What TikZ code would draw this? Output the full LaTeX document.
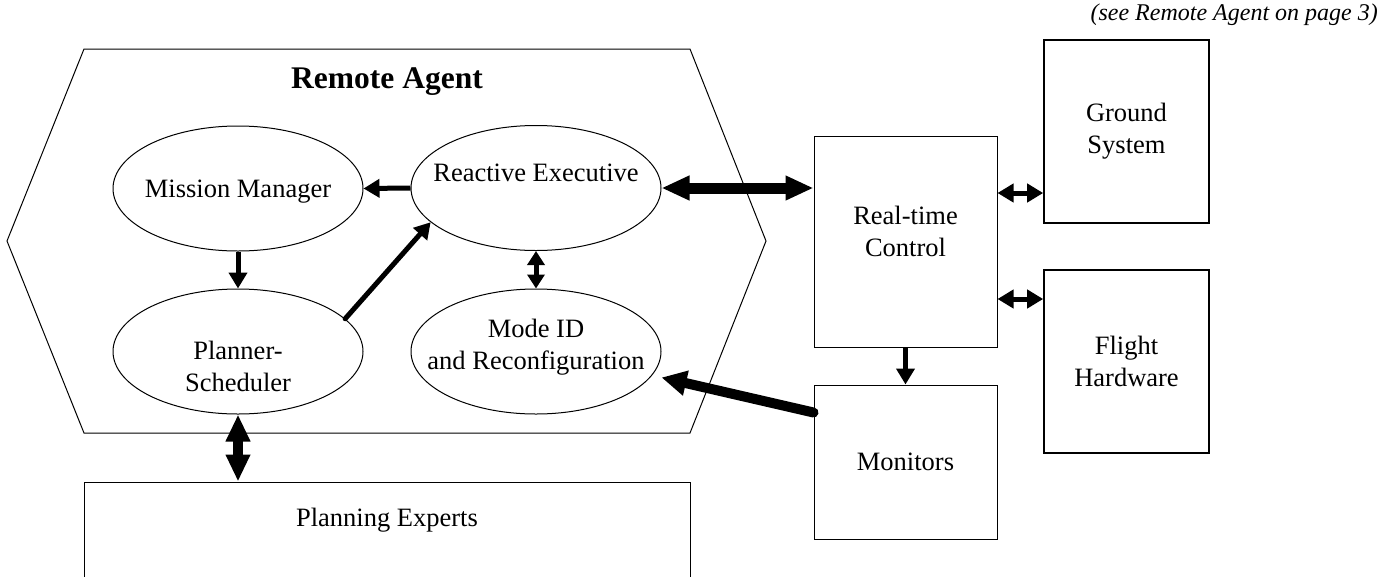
\documentclass[tikz,border=0pt]{standalone}
\usepackage{fontspec}
\setmainfont{Liberation Serif}
\usetikzlibrary{arrows.meta,shapes.geometric,calc}
\begin{document}
\begin{tikzpicture}[x=1pt,y=-1pt,
  oval/.style={draw,ellipse,line width=1pt,minimum width=250pt,minimum height=125pt,inner sep=0pt},
  box/.style={draw,rectangle,line width=1pt,inner sep=0pt,align=center,font=\bodyfont},
  heavybox/.style={box,line width=1.6pt},
  lbl/.style={font=\bodyfont,align=center,inner sep=0pt},
  thin arrow/.style={line width=5pt,-{Triangle[length=16pt,width=18pt]}},
  thin link/.style={line width=5pt,{Triangle[length=16pt,width=18pt]}-{Triangle[length=16pt,width=18pt]}},
  short link/.style={line width=5pt,{Triangle[length=14pt,width=17pt]}-{Triangle[length=14pt,width=17pt]}},
  bus link/.style={line width=11pt,{Triangle[length=28pt,width=23pt]}-{Triangle[length=28pt,width=23pt]}},
  fat link/.style={line width=10pt,{Triangle[length=27pt,width=23pt]}-{Triangle[length=27pt,width=23pt]}},
  fat arrow/.style={line width=10pt,line cap=round,-{Triangle[length=25pt,width=24pt]}},
]
\newcommand{\bodyfont}{\fontsize{26.5}{32}\selectfont}
\useasboundingbox (0,0) rectangle (1397,576);
\clip (0,0) rectangle (1397,576);

% reference note
\node[anchor=east,inner sep=0pt,font=\fontsize{24}{28}\selectfont\itshape] (note) at (1378,15) {(see Remote Agent on page 3)};

% Remote Agent hexagon
\draw[line width=1pt] (84,49) -- (690,49) -- (766,241) -- (690,433) -- (84,433) -- (7,241) -- cycle;
\node[inner sep=0pt,font=\fontsize{31.5}{36}\selectfont\bfseries] (ra) at (387,82) {Remote Agent};

% components inside the agent
\node[oval] (mm) at (238,188.5) {};
\node[lbl] (mm-t) at (238,192) {Mission Manager};
\node[oval] (re) at (536,188) {};
\node[lbl] (re-t) at (536,173) {Reactive Executive};
\node[oval] (ps) at (238,351.5) {};
\node[lbl] (ps-t) at (238,366) {Planner-\\Scheduler};
\node[oval] (md) at (536,351.5) {};
\node[lbl] (md-t) at (536,347) {Mode ID\\and Reconfiguration};

% external blocks
\node[box,minimum width=183pt,minimum height=211pt] (rt) at (905.5,241.5) {};
\node[lbl] (rt-t) at (905.5,231) {Real-time\\Control};
\node[heavybox,minimum width=165pt,minimum height=183pt] (gs) at (1126.5,131.5) {Ground\\System};
\node[heavybox,minimum width=165pt,minimum height=183pt] (fh) at (1126.5,361.5) {Flight\\Hardware};
\node[box,minimum width=183pt,minimum height=154pt] (mon) at (905.5,462) {Monitors};
\node[box,minimum width=606pt,minimum height=120pt] (pe) at (387,542) {};
\node[lbl] (pe-t) at (387,520) {Planning Experts};

% connectors
\draw[thin arrow] (re.west) -- (mm.east);
\draw[thin arrow] (mm.south) -- (ps.north);
\draw[thin arrow,line cap=round] (ps.17) -- (re.198);
\draw[short link] (re.south) -- (md.north);
\draw[bus link] (re.east) -- (re.east -| rt.west);
\draw[thin link] (rt.east |- 0,193) -- (gs.west |- 0,193);
\draw[thin link] (rt.east |- 0,299) -- (fh.west |- 0,299);
\draw[thin arrow] (rt.south) -- (mon.north);
\draw[fat arrow] ($(mon.north west)+(0,28)$) -- ($(md.east)+(0,26)$);
\draw[fat link] (ps.south) -- (ps.south |- pe.north);
\end{tikzpicture}
\end{document}
